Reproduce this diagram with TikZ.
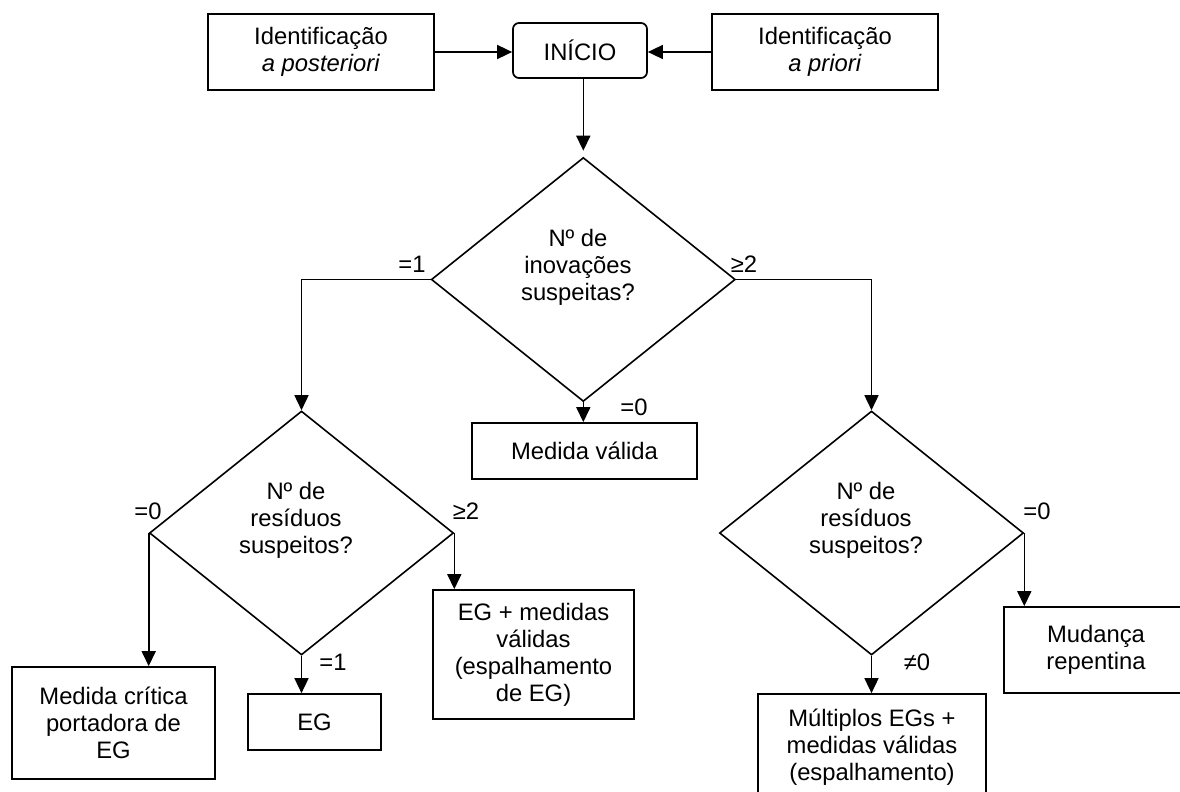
\documentclass[tikz,border=0pt]{standalone}
\usepackage{fontspec}
\setmainfont{Liberation Sans}
\usetikzlibrary{arrows.meta,shapes.geometric}
\begin{document}
\begin{tikzpicture}[x=1pt,y=-1pt,
  every node/.style={font=\fontsize{23.8}{27}\selectfont, inner sep=0pt},
  box/.style={draw, line width=1.7pt, rectangle, align=center},
  dec/.style={draw, line width=1.6pt, diamond, minimum width=304pt, minimum height=244pt, inner sep=0pt},
  dtext/.style={align=center},
  arr/.style={line width=1.6pt, -{Triangle[length=15pt,width=14pt]}}
]
\useasboundingbox (0,0) rectangle (1180,792);
\clip (0,0) rectangle (1180,792);
\fill[white] (0,0) rectangle (1180,792);

\node[box, minimum width=226pt, minimum height=76pt] (post) at (321,52) {Identificação\\\textit{a posteriori}};
\node[box, rounded corners=6pt, minimum width=134pt, minimum height=55pt] (inicio) at (580,50.5) {INÍCIO};
\node[box, minimum width=226pt, minimum height=76pt] (priori) at (825,52) {Identificação\\\textit{a priori}};

\node[dec] (d1) at (583.3,279.5) {};
\node[dtext] (t1) at (578,267) {Nº de\\inovações\\suspeitas?};
\node[box, minimum width=225pt, minimum height=56pt] (valida) at (584.5,451) {Medida válida};

\node[dec] (d2) at (301.5,533) {};
\node[dtext] (t2) at (296,520) {Nº de\\resíduos\\suspeitos?};
\node[dec] (d3) at (871.5,533) {};
\node[dtext] (t3) at (866,520) {Nº de\\resíduos\\suspeitos?};

\node[box, minimum width=203pt, minimum height=112pt] (critica) at (113.5,723) {Medida crítica\\portadora de\\EG};
\node[box, minimum width=133pt, minimum height=56pt] (eg) at (314.5,722) {EG};
\node[box, minimum width=201pt, minimum height=129pt] (egmed) at (533.5,654.5) {EG + medidas\\válidas\\(espalhamento\\de EG)};
\node[box, minimum width=228pt, minimum height=106pt] (mult) at (872,747) {Múltiplos EGs +\\medidas válidas\\(espalhamento)};
\node[box, minimum width=184pt, minimum height=86pt] (mud) at (1096,650) {Mudança\\repentina};

\draw[arr] (post.east) -- (post.east -| inicio.west);
\draw[arr] (priori.west) -- (priori.west -| inicio.east);
\draw[arr, shorten >=6pt] (inicio.south -| d1.north) -- (d1.north);
\draw[arr] (d1.west) -| (d2.north);
\draw[arr] (d1.east) -| (d3.north);
\draw[arr] (d1.south) -- (d1.south |- valida.north);
\draw[arr] (d2.west) -- (d2.west |- critica.north);
\draw[arr] (d2.south) -- (d2.south |- eg.north);
\draw[arr] (d2.east) -- (d2.east |- egmed.north);
\draw[arr] (d3.south) -- (d3.south |- mult.north);
\draw[arr] (d3.east) -- (d3.east |- mud.north);

\node (l1) at (412,264) {=1};
\node (l2) at (744,264) {≥2};
\node (l3) at (634,407) {=0};
\node (l4) at (148,511) {=0};
\node (l5) at (466,511) {≥2};
\node (l6) at (333,662) {=1};
\node (l7) at (1037,511) {=0};
\node (l8) at (917,662) {≠0};
\end{tikzpicture}
\end{document}
